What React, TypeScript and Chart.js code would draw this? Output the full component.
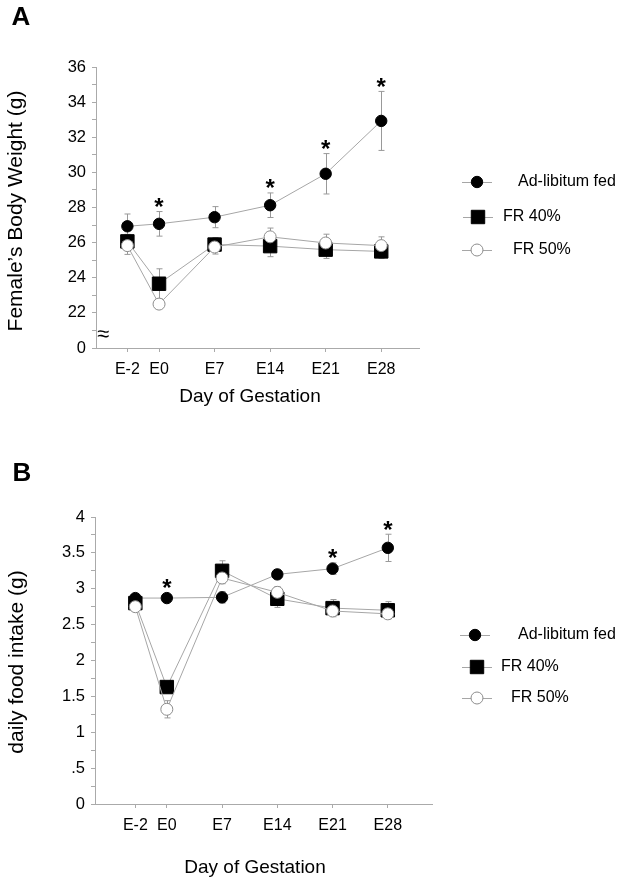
import React, { useEffect, useRef } from 'react';
import { Chart, registerables } from 'chart.js';

Chart.register(...registerables);

const FONT = "'Liberation Sans', Arial, Helvetica, sans-serif";

// ---------- data ----------
const categories = ['E-2', 'E0', 'E7', 'E14', 'E21', 'E28'];
const categorySlots = [-0.57, 0, 1, 2, 3, 4];
const seriesNames = ['Ad-libitum fed', 'FR 40%', 'FR 50%'];

// Panel A: body weight (g)
const adLibWeight = [26.93, 27.07, 27.45, 28.13, 29.92, 32.93];
const adLibWeightErr = [0.7, 0.7, 0.6, 0.7, 1.15, 1.68];
const fr40Weight = [26.07, 23.66, 25.89, 25.8, 25.6, 25.5];
const fr40WeightErr = [0.4, 0.85, 0.4, 0.6, 0.5, 0.4];
const fr50Weight = [25.83, 22.5, 25.75, 26.33, 25.98, 25.83];
const fr50WeightErr = [0.5, 0.25, 0.4, 0.5, 0.5, 0.5];
const weightSignificant = [false, true, false, true, true, true];
const weightTickLabels: [number, string][] = [
  [36, '36'], [34, '34'], [32, '32'], [30, '30'], [28, '28'], [26, '26'], [24, '24'], [22, '22'], [20, '0'],
];

// Panel B: daily food intake (g)
const adLibFood = [2.87, 2.87, 2.88, 3.2, 3.28, 3.57];
const adLibFoodErr = [0.05, 0.05, 0.08, 0.06, 0.08, 0.19];
const fr40Food = [2.8, 1.63, 3.25, 2.86, 2.73, 2.7];
const fr40FoodErr = [0.08, 0.05, 0.14, 0.12, 0.12, 0.12];
const fr50Food = [2.75, 1.32, 3.15, 2.95, 2.69, 2.65];
const fr50FoodErr = [0.05, 0.12, 0.08, 0.08, 0.05, 0.05];
const foodSignificant = [false, true, false, false, true, true];
const foodTickLabels: [number, string][] = [
  [4, '4'], [3.5, '3.5'], [3, '3'], [2.5, '2.5'], [2, '2'], [1.5, '1.5'], [1, '1'], [0.5, '.5'], [0, '0'],
];

// ---------- styles ----------
const LINE_GRAY = '#a6a6a6';
const AXIS_GRAY = '#aaaaaa';
const ERR_GRAY = '#999999';
const markerStyles = [
  { pointStyle: 'circle', radius: 5.7, bg: '#000', border: '#000' },
  { pointStyle: 'rect', radius: 9.5, bg: '#000', border: '#000' },
  { pointStyle: 'circle', radius: 6, bg: '#fff', border: '#8c8c8c' },
];

type PanelSpec = {
  letter: string;
  letterPos: [number, number];
  yTitle: string;
  yTitlePos: [number, number];
  xTitle: string;
  xTitlePos: [number, number];
  values: number[][];
  errors: number[][];
  significant: boolean[];
  yMin: number;
  yMax: number;
  yStep: number;
  yLabels: [number, string][];
  xMin: number;
  xMax: number;
  padding: { left: number; right: number; top: number; bottom: number };
  yAxisWidth: number;
  xAxisHeight: number;
  legendRows: { mx: number; my: number; tx: number }[];
  breakMark: [number, number] | null;
};

function drawMarker(ctx: CanvasRenderingContext2D, kind: number, x: number, y: number) {
  const s = markerStyles[kind];
  ctx.save();
  ctx.fillStyle = s.bg;
  ctx.strokeStyle = s.border;
  ctx.lineWidth = 1;
  ctx.beginPath();
  if (s.pointStyle === 'rect') {
    const h = s.radius * Math.SQRT1_2;
    ctx.rect(x - h, y - h, 2 * h, 2 * h);
  } else {
    ctx.arc(x, y, s.radius, 0, Math.PI * 2);
  }
  ctx.fill();
  ctx.stroke();
  ctx.restore();
}

function makeDecorPlugin(p: PanelSpec) {
  return {
    id: 'decor',
    beforeDatasetsDraw(chart: any) {
      const ctx: CanvasRenderingContext2D = chart.ctx;
      const ys = chart.scales.y;
      ctx.save();
      ctx.strokeStyle = ERR_GRAY;
      ctx.lineWidth = 1;
      p.values.forEach((vals, di) => {
        const meta = chart.getDatasetMeta(di);
        vals.forEach((v, j) => {
          const e = p.errors[di][j];
          const x = Math.round(meta.data[j].x) + 0.5;
          const yt = ys.getPixelForValue(v + e);
          const yb = ys.getPixelForValue(v - e);
          ctx.beginPath();
          ctx.moveTo(x, yt);
          ctx.lineTo(x, yb);
          ctx.moveTo(x - 3, yt);
          ctx.lineTo(x + 3, yt);
          ctx.moveTo(x - 3, yb);
          ctx.lineTo(x + 3, yb);
          ctx.stroke();
        });
      });
      ctx.restore();
    },
    afterDraw(chart: any) {
      const ctx: CanvasRenderingContext2D = chart.ctx;
      const ys = chart.scales.y;
      ctx.save();
      ctx.fillStyle = '#000';

      // significance asterisks above the ad-libitum series
      const meta0 = chart.getDatasetMeta(0);
      ctx.font = `bold 24px ${FONT}`;
      ctx.textAlign = 'center';
      ctx.textBaseline = 'alphabetic';
      const m = ctx.measureText('*');
      p.significant.forEach((sig, j) => {
        if (!sig) return;
        const v = p.values[0][j];
        const e = p.errors[0][j];
        const x = meta0.data[j].x;
        const top = Math.min(ys.getPixelForValue(v + e), ys.getPixelForValue(v) - markerStyles[0].radius);
        const centerY = top - 9;
        const baseline = centerY + (m.actualBoundingBoxAscent - m.actualBoundingBoxDescent) / 2;
        ctx.fillText('*', x, baseline);
      });

      // legend
      ctx.font = `16px ${FONT}`;
      ctx.textAlign = 'left';
      ctx.textBaseline = 'middle';
      p.legendRows.forEach((r, i) => {
        ctx.save();
        ctx.strokeStyle = LINE_GRAY;
        ctx.lineWidth = 1;
        ctx.beginPath();
        ctx.moveTo(r.mx - 15, Math.round(r.my) + 0.5);
        ctx.lineTo(r.mx + 15, Math.round(r.my) + 0.5);
        ctx.stroke();
        ctx.restore();
        drawMarker(ctx, i, r.mx, r.my);
        ctx.fillStyle = '#000';
        ctx.fillText(seriesNames[i], r.tx, r.my);
      });

      // axis titles
      ctx.textAlign = 'center';
      ctx.textBaseline = 'middle';
      ctx.font = `19px ${FONT}`;
      ctx.fillText(p.xTitle, p.xTitlePos[0], p.xTitlePos[1]);
      ctx.font = `21px ${FONT}`;
      ctx.save();
      ctx.translate(p.yTitlePos[0], p.yTitlePos[1]);
      ctx.rotate(-Math.PI / 2);
      ctx.fillText(p.yTitle, 0, 0);
      ctx.restore();

      // panel letter
      ctx.font = `bold 26px ${FONT}`;
      ctx.fillText(p.letter, p.letterPos[0], p.letterPos[1]);

      // axis break mark
      if (p.breakMark) {
        ctx.font = `22px ${FONT}`;
        ctx.fillText('\u2248', p.breakMark[0], p.breakMark[1]);
      }
      ctx.restore();
    },
  };
}

function buildChart(canvas: HTMLCanvasElement, p: PanelSpec) {
  const datasets = p.values.map((vals, di) => {
    const s = markerStyles[di];
    return {
      label: seriesNames[di],
      data: vals.map((v, j) => ({ x: categorySlots[j], y: v })),
      showLine: true,
      borderColor: LINE_GRAY,
      borderWidth: 1,
      tension: 0,
      pointStyle: s.pointStyle,
      pointRadius: s.radius,
      pointBackgroundColor: s.bg,
      pointBorderColor: s.border,
      pointBorderWidth: 1,
      order: 2 - di,
    };
  });
  const findLabel = (v: number) => {
    const hit = p.yLabels.find(([k]) => Math.abs(k - v) < 1e-6);
    return hit ? hit[1] : '';
  };
  return new Chart(canvas, {
    type: 'line',
    data: { datasets } as any,
    options: {
      responsive: false,
      animation: false,
      events: [],
      layout: { padding: p.padding },
      plugins: { legend: { display: false }, tooltip: { enabled: false } },
      scales: {
        x: {
          type: 'linear',
          min: p.xMin,
          max: p.xMax,
          afterFit: (s: any) => { s.height = p.xAxisHeight; },
          afterBuildTicks: (s: any) => { s.ticks = categorySlots.map((v) => ({ value: v })); },
          grid: { drawOnChartArea: false, drawTicks: true, tickLength: 4, color: AXIS_GRAY, tickColor: AXIS_GRAY },
          border: { color: AXIS_GRAY, width: 1 },
          ticks: {
            autoSkip: false,
            maxRotation: 0,
            padding: 8,
            color: '#000',
            font: { family: FONT, size: 16 },
            callback: (_v: any, i: number) => categories[i],
          },
        },
        y: {
          type: 'linear',
          min: p.yMin,
          max: p.yMax,
          afterFit: (s: any) => { s.width = p.yAxisWidth; },
          grid: { drawOnChartArea: false, drawTicks: true, tickLength: 4, color: AXIS_GRAY, tickColor: AXIS_GRAY },
          border: { color: AXIS_GRAY, width: 1 },
          ticks: {
            stepSize: p.yStep,
            autoSkip: false,
            padding: 6,
            color: '#000',
            font: { family: FONT, size: 16.5 },
            callback: (v: any) => findLabel(Number(v)),
          },
        },
      },
    } as any,
    plugins: [makeDecorPlugin(p)],
  });
}

const panelA: PanelSpec = {
  letter: 'A',
  letterPos: [21, 18],
  yTitle: "Female\u2019s Body Weight (g)",
  yTitlePos: [16, 211],
  xTitle: 'Day of Gestation',
  xTitlePos: [250, 397],
  values: [adLibWeight, fr40Weight, fr50Weight],
  errors: [adLibWeightErr, fr40WeightErr, fr50WeightErr],
  significant: weightSignificant,
  yMin: 20,
  yMax: 36,
  yStep: 1,
  yLabels: weightTickLabels,
  xMin: -1.135,
  xMax: 4.68,
  padding: { left: 0, right: 203, top: 67, bottom: 35 },
  yAxisWidth: 96,
  xAxisHeight: 60,
  legendRows: [
    { mx: 477, my: 182, tx: 518 },
    { mx: 478, my: 217, tx: 503 },
    { mx: 477, my: 250, tx: 513 },
  ],
  breakMark: [103, 335],
};

const panelB: PanelSpec = {
  letter: 'B',
  letterPos: [22, 31],
  yTitle: 'daily food intake (g)',
  yTitlePos: [17, 219],
  xTitle: 'Day of Gestation',
  xTitlePos: [255, 425],
  values: [adLibFood, fr40Food, fr50Food],
  errors: [adLibFoodErr, fr40FoodErr, fr50FoodErr],
  significant: foodSignificant,
  yMin: 0,
  yMax: 4,
  yStep: 0.25,
  yLabels: foodTickLabels,
  xMin: -1.3,
  xMax: 4.8,
  padding: { left: 0, right: 190, top: 74, bottom: 22 },
  yAxisWidth: 95,
  xAxisHeight: 60,
  legendRows: [
    { mx: 475, my: 192, tx: 518 },
    { mx: 477, my: 224, tx: 501 },
    { mx: 477, my: 255, tx: 511 },
  ],
  breakMark: null,
};

function Panel({ spec, top }: { spec: PanelSpec; top: number }) {
  const ref = useRef<HTMLCanvasElement | null>(null);
  useEffect(() => {
    if (!ref.current) return;
    const chart = buildChart(ref.current, spec);
    return () => chart.destroy();
  }, [spec]);
  return (
    <canvas
      ref={ref}
      width={622}
      height={443}
      style={{ position: 'absolute', left: 0, top, width: 622, height: 443 }}
    />
  );
}

export default function App() {
  return (
    <div style={{ position: 'absolute', left: 0, top: 0, width: 622, height: 886, background: '#fff' }}>
      <Panel spec={panelA} top={0} />
      <Panel spec={panelB} top={443} />
    </div>
  );
}
